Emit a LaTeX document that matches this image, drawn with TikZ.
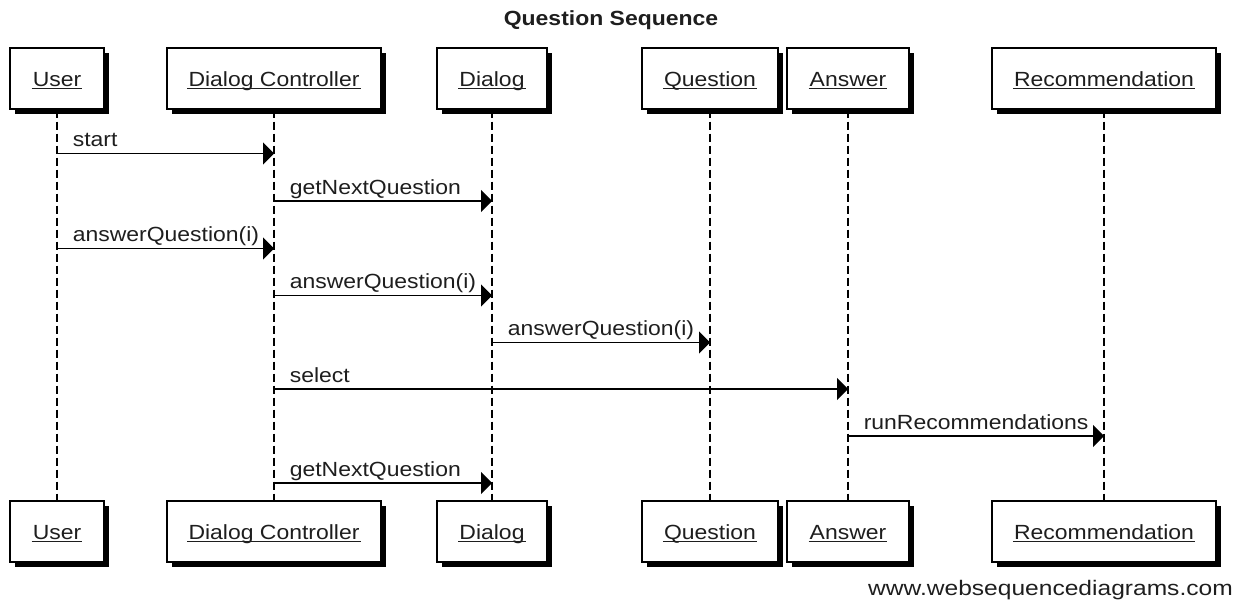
\documentclass[tikz,border=0pt]{standalone}
\usepackage{fontspec}
\setmainfont{Liberation Sans}
\newfontfamily\lblfont[FakeStretch=1.12]{Liberation Sans}
\newfontfamily\creditfont[FakeStretch=1.17]{Liberation Sans}
\usetikzlibrary{arrows.meta,shadows}

\definecolor{inkgray}{HTML}{1E1E1E}

\tikzset{
  actor/.style={draw, line width=1.3pt, fill=white, minimum height=61pt,
    inner sep=0pt,
    drop shadow={shadow xshift=5pt, shadow yshift=-5pt, opacity=1, fill=black}},
  actortext/.style={anchor=base, inner sep=0pt, text=inkgray,
    font=\lblfont\fontsize{20.5}{24}\selectfont},
  uline/.style={line width=0.9pt, inkgray},
  lifeline/.style={line width=1.3pt, dash pattern=on 8pt off 4pt},
  msg/.style={line width=1.6pt, -{Triangle[length=11pt,width=22pt]}},
  msglabel/.style={anchor=base west, inner sep=0pt, pos=0, xshift=15pt, yshift=7pt,
    text=inkgray, font=\lblfont\fontsize{20.5}{24}\selectfont},
}

\begin{document}
\begin{tikzpicture}[x=1pt, y=-1pt]
\useasboundingbox (0,0) rectangle (1244,600);

% title
\node[anchor=base, inner sep=0pt, text=inkgray,
  font=\lblfont\bfseries\fontsize{20.5}{24}\selectfont]
  (title) at (611,25) {Question Sequence};

% participants, top and bottom rows
\foreach \n/\x/\w/\t in {user/57/94/User, dc/274/214/Dialog Controller,
    dialog/492/110/Dialog, question/710/136/Question, answer/848/122/Answer,
    rec/1104/224/Recommendation} {
  \node[actor, minimum width=\w pt] (\n-top) at (\x,78.5) {};
  \node[actor, minimum width=\w pt] (\n-bot) at (\x,531.5) {};
  \draw[lifeline] (\n-top.south) -- (\n-bot.north);
  \node[actortext] (\n-top-t) at (\x,86) {\t};
  \node[actortext] (\n-bot-t) at (\x,539) {\t};
  \draw[uline] ([xshift=-1pt,yshift=-2.5pt]\n-top-t.base west) -- ([xshift=1pt,yshift=-2.5pt]\n-top-t.base east);
  \draw[uline] ([xshift=-1pt,yshift=-2.5pt]\n-bot-t.base west) -- ([xshift=1pt,yshift=-2.5pt]\n-bot-t.base east);
}

% message rows
\foreach \i/\y in {1/153.5,2/201,3/248.5,4/295.5,5/342.5,6/389,7/436,8/483}
  \coordinate (r\i) at (0,\y);

% messages
\draw[msg] (user-top |- r1) -- node[msglabel] {start} (dc-top |- r1);
\draw[msg] (dc-top |- r2) -- node[msglabel] {getNextQuestion} (dialog-top |- r2);
\draw[msg] (user-top |- r3) -- node[msglabel] {answerQuestion(i)} (dc-top |- r3);
\draw[msg] (dc-top |- r4) -- node[msglabel] {answerQuestion(i)} (dialog-top |- r4);
\draw[msg] (dialog-top |- r5) -- node[msglabel] {answerQuestion(i)} (question-top |- r5);
\draw[msg] (dc-top |- r6) -- node[msglabel] {select} (answer-top |- r6);
\draw[msg] (answer-top |- r7) -- node[msglabel] {runRecommendations} (rec-top |- r7);
\draw[msg] (dc-top |- r8) -- node[msglabel] {getNextQuestion} (dialog-top |- r8);

% credit line
\node[anchor=base east, inner sep=0pt, text=inkgray,
  font=\creditfont\fontsize{21}{24}\selectfont]
  (credit) at (1233,595) {www.websequencediagrams.com};
\end{tikzpicture}
\end{document}
